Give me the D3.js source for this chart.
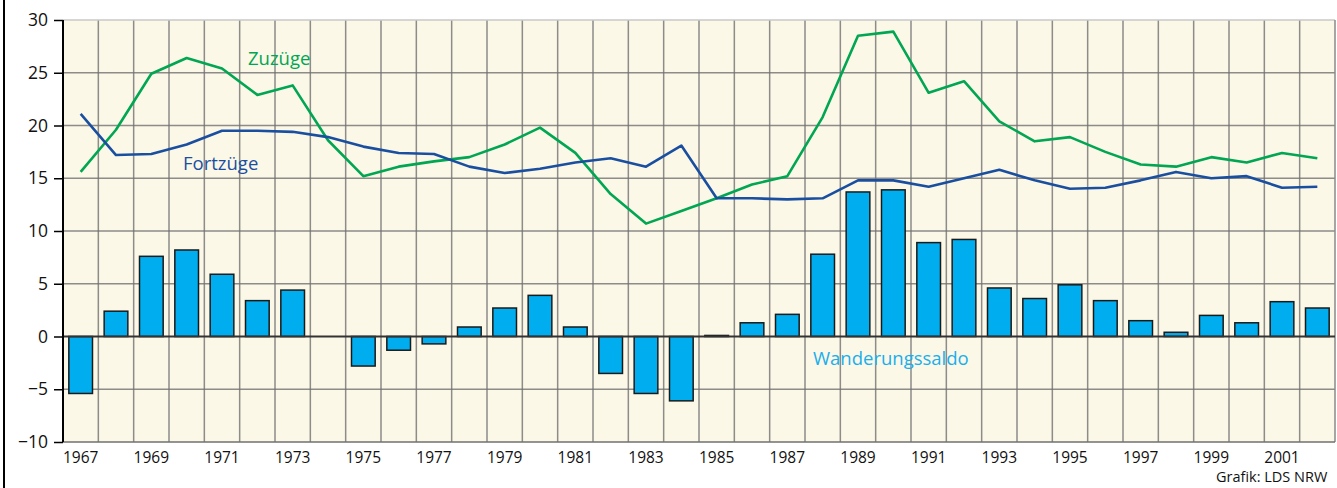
<!DOCTYPE html>
<html><head><meta charset="utf-8">
<script src="https://cdn.jsdelivr.net/npm/d3@7"></script>
<style>html,body{margin:0;padding:0;background:#fff;}svg{display:block;font-family:"Open Sans",sans-serif;}</style>
</head><body>
<svg id="c" width="1337" height="488"></svg>
<script>
const years = d3.range(1967, 2003).map(String);
const zuzuege = [15.6,19.6,24.9,26.4,25.4,22.9,23.8,18.6,15.2,16.1,16.6,17.0,18.2,19.8,17.4,13.5,10.7,11.9,13.1,14.4,15.2,20.8,28.5,28.9,23.1,24.2,20.4,18.5,18.9,17.5,16.3,16.1,17.0,16.5,17.4,16.9];
const fortzuege = [21.1,17.2,17.3,18.2,19.5,19.5,19.4,18.9,18.0,17.4,17.3,16.1,15.5,15.9,16.5,16.9,16.1,18.1,13.1,13.1,13.0,13.1,14.8,14.8,14.2,15.0,15.8,14.8,14.0,14.1,14.8,15.6,15.0,15.2,14.1,14.2];
const saldo = [-5.4,2.4,7.6,8.2,5.9,3.4,4.4,0,-2.8,-1.3,-0.7,0.9,2.7,3.9,0.9,-3.5,-5.4,-6.1,0.1,1.3,2.1,7.8,13.7,13.9,8.9,9.2,4.6,3.6,4.9,3.4,1.5,0.4,2.0,1.3,3.3,2.7];
const yTicks = [-10,-5,0,5,10,15,20,25,30];
const xTickLabels = ["1967","1969","1971","1973","1975","1977","1979","1981","1983","1985","1987","1989","1991","1993","1995","1997","1999","2001"];
const seriesLabels = {zu:"Zuzüge", fort:"Fortzüge", saldo:"Wanderungssaldo"};

const L=63, R=1335, T=20, B=442;
const svg = d3.select("#c");
const x = d3.scaleBand().domain(years).range([L,R]).padding(0);
const y = d3.scaleLinear().domain([-10,30]).range([B,T]);
const bw = x.bandwidth()*0.67;

svg.append("line").attr("x1",4).attr("x2",4).attr("y1",0).attr("y2",488).attr("stroke","#000").attr("stroke-width",2);

svg.append("rect").attr("x",L).attr("y",T).attr("width",R-L).attr("height",B-T).attr("fill","#fcf8e8");

const g = svg.append("g");
g.selectAll("line.v").data(years.slice(1)).join("line")
  .attr("x1",d=>x(d)).attr("x2",d=>x(d)).attr("y1",T).attr("y2",B)
  .attr("stroke","#707070").attr("stroke-opacity",0.8).attr("stroke-width",1.5);
g.selectAll("line.h").data(yTicks.filter(v=>v!==30&&v!==0&&v!==-10)).join("line")
  .attr("x1",L).attr("x2",R).attr("y1",d=>y(d)).attr("y2",d=>y(d))
  .attr("stroke","#707070").attr("stroke-opacity",0.8).attr("stroke-width",1.5);
svg.append("line").attr("x1",L).attr("x2",R).attr("y1",T).attr("y2",T).attr("stroke","#c8c8c8").attr("stroke-width",1.5);
svg.append("line").attr("x1",R).attr("x2",R).attr("y1",T).attr("y2",B).attr("stroke","#8a8a8a").attr("stroke-width",1.5);
svg.append("line").attr("x1",L).attr("x2",R).attr("y1",B).attr("y2",B).attr("stroke","#707070").attr("stroke-width",1.5);

svg.selectAll("rect.bar").data(saldo.map((v,i)=>({v,yr:years[i]})).filter(d=>d.v!==0)).join("rect")
  .attr("x",d=>x(d.yr)+(x.bandwidth()-bw)/2).attr("width",bw)
  .attr("y",d=>y(Math.max(0,d.v))).attr("height",d=>Math.max(1,Math.abs(y(d.v)-y(0))))
  .attr("fill","#00adee").attr("stroke","#1a1a1a").attr("stroke-width",1.5);

svg.append("line").attr("x1",L).attr("x2",R).attr("y1",y(0)).attr("y2",y(0)).attr("stroke","#333").attr("stroke-width",2);

const line = d3.line().x((d,i)=>x(years[i])+x.bandwidth()/2).y(d=>y(d));
svg.append("path").datum(zuzuege).attr("d",line).attr("fill","none").attr("stroke","#00a651").attr("stroke-width",2.6).attr("stroke-linejoin","round");
svg.append("path").datum(fortzuege).attr("d",line).attr("fill","none").attr("stroke","#1a4fa0").attr("stroke-width",2.6).attr("stroke-linejoin","round");

const ya = d3.axisLeft(y).tickValues(yTicks).tickSize(9).tickPadding(6).tickFormat(d3.format("d"));
const yg = svg.append("g").attr("transform",`translate(${L},0)`).call(ya);
yg.select(".domain").attr("stroke","#000").attr("stroke-width",2).attr("d",`M0,${T}V${B}`);
yg.selectAll(".tick line").attr("stroke","#000").attr("stroke-width",1.5);
yg.selectAll("text").attr("font-size","17.5px").attr("fill","#111").attr("font-family","Open Sans");

svg.selectAll("text.xl").data(xTickLabels).join("text")
  .attr("x",d=>x(d)+x.bandwidth()/2).attr("y",462.5).attr("text-anchor","middle")
  .attr("font-size","15.5px").attr("fill","#111").text(d=>d);

svg.append("text").attr("x",248).attr("y",64.5).attr("font-size","18.5px").attr("fill","#00a651").text(seriesLabels.zu);
svg.append("text").attr("x",183).attr("y",170).attr("font-size","18.5px").attr("fill","#1a4fa0").text(seriesLabels.fort);
svg.append("text").attr("x",813).attr("y",365).attr("font-size","18.5px").attr("fill","#1aaeec").text(seriesLabels.saldo);

svg.append("text").attr("x",1216).attr("y",482).attr("font-size","14.5px").attr("fill","#111").text("Grafik: LDS NRW");
</script>
</body></html>
